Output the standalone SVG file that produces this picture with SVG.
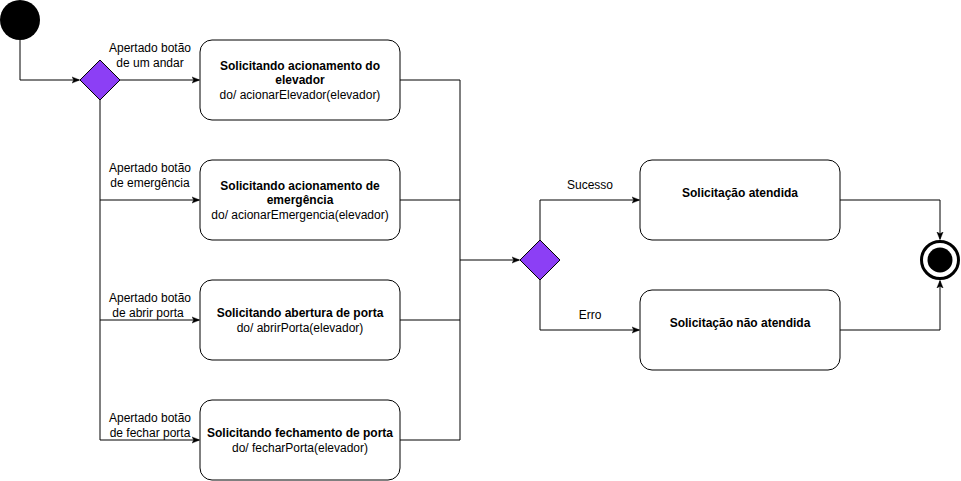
<svg xmlns="http://www.w3.org/2000/svg" width="961" height="481" viewBox="0 0 961 481">
<style>
text{font-family:"Liberation Sans",Arial,Helvetica,sans-serif;font-size:12px;fill:#000}
.b{font-weight:bold}
.lbl{text-anchor:middle}
.box{fill:#fff;stroke:#000;stroke-width:1}
.dia{fill:#8c3ff5;stroke:#000;stroke-width:1}
.e{fill:none;stroke:#000;stroke-width:1}
</style>
<defs>
<marker id="a" viewBox="0 0 10 10" refX="9" refY="5" markerWidth="8" markerHeight="8" markerUnits="userSpaceOnUse" orient="auto">
<path d="M0,1 L10,5 L0,9 L2.5,5 Z" fill="#000" stroke="#000" stroke-width="0.5"/>
</marker>
</defs>
<rect width="961" height="481" fill="#fff"/>
<g id="connectors">
<path class="e" d="M20,40 V80 H79" marker-end="url(#a)"/>
<path class="e" d="M120,80 H199" marker-end="url(#a)"/>
<path class="e" d="M100,100 V200 H199" marker-end="url(#a)"/>
<path class="e" d="M100,200 V320 H199" marker-end="url(#a)"/>
<path class="e" d="M100,320 V440 H199" marker-end="url(#a)"/>
<path class="e" d="M400,80 H460 V260 H519" marker-end="url(#a)"/>
<path class="e" d="M400,200 H460"/>
<path class="e" d="M400,320 H460"/>
<path class="e" d="M400,440 H460 V260"/>
<path class="e" d="M540,240 V200 H639" marker-end="url(#a)"/>
<path class="e" d="M540,280 V330 H639" marker-end="url(#a)"/>
<path class="e" d="M840,200 H940 V239" marker-end="url(#a)"/>
<path class="e" d="M840,330 H940 V281" marker-end="url(#a)"/>
<text class="lbl" x="150" y="52">Apertado botão</text>
<text class="lbl" x="150" y="67">de um andar</text>
<text class="lbl" x="150" y="172">Apertado botão</text>
<text class="lbl" x="150" y="187">de emergência</text>
<text class="lbl" x="150" y="302">Apertado botão</text>
<text class="lbl" x="148" y="317">de abrir porta</text>
<text class="lbl" x="150" y="422">Apertado botão</text>
<text class="lbl" x="150" y="437">de fechar porta</text>
<text class="lbl" x="590" y="189">Sucesso</text>
<text class="lbl" x="590" y="319">Erro</text>
</g>
<g id="start"><circle cx="20" cy="20" r="20" fill="#000"/></g>
<g id="decision1"><path class="dia" d="M100,60 L120,80 L100,100 L80,80 Z"/></g>
<g id="s1"><rect class="box" x="200" y="40" width="200" height="80" rx="12"/>
<text class="lbl b" x="300" y="70">Solicitando acionamento do</text>
<text class="lbl b" x="300" y="84">elevador</text>
<text class="lbl" x="300" y="99">do/ acionarElevador(elevador)</text></g>
<g id="s2"><rect class="box" x="200" y="160" width="200" height="80" rx="12"/>
<text class="lbl b" x="300" y="190">Solicitando acionamento de</text>
<text class="lbl b" x="300" y="204">emergência</text>
<text class="lbl" x="300" y="219">do/ acionarEmergencia(elevador)</text></g>
<g id="s3"><rect class="box" x="200" y="280" width="200" height="80" rx="12"/>
<text class="lbl b" x="300" y="317">Solicitando abertura de porta</text>
<text class="lbl" x="300" y="332">do/ abrirPorta(elevador)</text></g>
<g id="s4"><rect class="box" x="200" y="400" width="200" height="80" rx="12"/>
<text class="lbl b" x="300" y="437">Solicitando fechamento de porta</text>
<text class="lbl" x="300" y="452">do/ fecharPorta(elevador)</text></g>
<g id="decision2"><path class="dia" d="M540,240 L560,260 L540,280 L520,260 Z"/></g>
<g id="ok"><rect class="box" x="640" y="160" width="200" height="80" rx="12"/>
<text class="lbl b" x="740" y="197">Solicitação atendida</text></g>
<g id="fail"><rect class="box" x="640" y="290" width="200" height="80" rx="12"/>
<text class="lbl b" x="740" y="327">Solicitação não atendida</text></g>
<g id="end"><circle cx="940" cy="260" r="18.5" fill="#fff" stroke="#000" stroke-width="3"/>
<circle cx="940" cy="260" r="12.5" fill="#000"/></g>
</svg>
